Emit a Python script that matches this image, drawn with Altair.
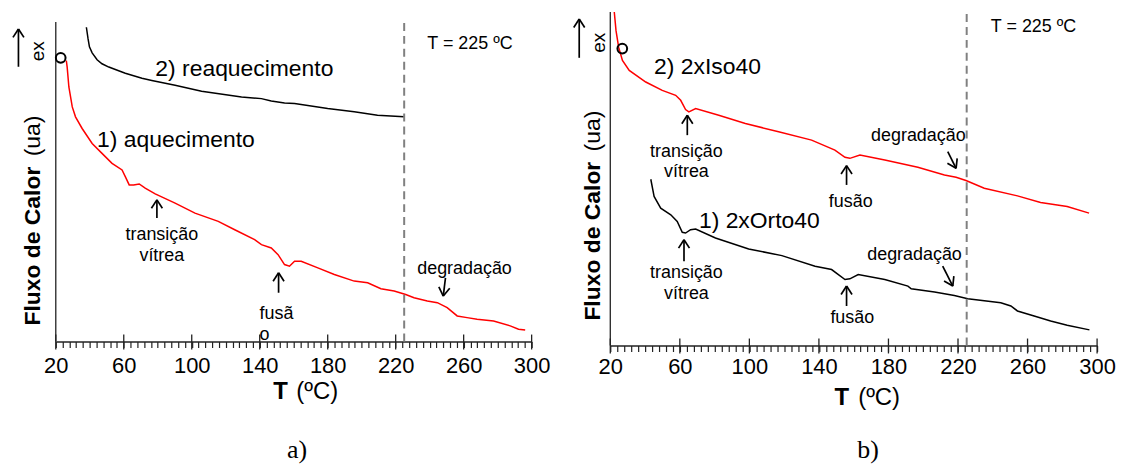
import altair as alt
import pandas as pd
import numpy as np

# ---------------- data (T in degC, heat flow in arbitrary units) ----------------
a_red_T = [26.2, 26.7, 27.7, 29.7, 31.6, 35.5, 41.4, 47.2, 53.1, 59.0, 60.9, 63.2, 65.8, 69.1, 72.6,
           78.5, 90.2, 101.9, 115.6, 125.3, 137.0, 141.0, 146.8, 150.8, 154.6, 157.5, 160.5, 164.4,
           174.2, 183.9, 195.6, 203.5, 211.3, 219.1, 225.9, 230.8, 238.6, 244.5, 250.3, 256.2, 262.0,
           267.9, 277.6, 287.4, 292.3, 296.2]
a_red_v = [282.3, 275.7, 255.7, 235.7, 225.7, 214, 199, 189, 179, 172.3, 165.7, 157.3, 157.3, 158.3, 154,
           148.3, 139, 129, 120.7, 112.3, 102.3, 97.3, 94, 87.3, 77.3, 75.7, 80.7, 80.7,
           74, 67.3, 60.7, 59, 53, 50.7, 47.3, 44, 40.7, 39, 34, 25.7, 24,
           22.3, 20.7, 15.7, 12.3, 11.5]
a_blk_T = [38.0, 39.0, 39.8, 41.4, 44.3, 47.2, 51.2, 57.0, 60.9, 70.7, 76.5, 90.2, 105.8, 129.3, 141.0,
           146.8, 154.6, 160.5, 180.0, 195.6, 209.3, 224.9]
a_blk_v = [315.7, 304, 296, 290, 283, 279, 275.7, 272, 269.5, 264.5, 262.3, 257.5, 251.5, 245.7, 244,
           241.7, 239.7, 239, 234, 230.7, 227.3, 225.7]

b_red_T = [22.3, 23.3, 24.8, 27.0, 30.9, 40.4, 49.9, 57.6, 60.5, 63.3, 65.2, 69.1, 82.4, 97.7, 116.8,
           135.8, 149.2, 155.0, 157.8, 163.6, 177.9, 196.9, 212.2, 218.9, 224.6, 235.1, 254.2, 267.5,
           282.8, 295.4]
b_red_v = [335, 316.3, 299.7, 286.3, 276.3, 264.7, 256.3, 251.3, 246.3, 237, 234.7, 238, 231.3, 223, 214.7,
           206.3, 196.3, 189, 188, 191.3, 186.3, 179, 171.3, 169, 165.7, 158, 150.3, 143.7,
           139.7, 133]
b_blk_T = [43.3, 45.2, 49.0, 54.8, 58.5, 61.4, 63.3, 66.2, 69.1, 80.5, 99.6, 118.7, 137.8, 147.3, 155.0,
           157.8, 162.6, 177.9, 191.2, 193.1, 206.5, 217.9, 225.6, 244.6, 250.4, 254.2, 263.8, 273.3,
           282.8, 295.6]
b_blk_v = [167, 149.7, 138, 131.3, 124.7, 113.7, 113, 116.3, 117, 108, 97, 90.3, 79.7, 76.3, 66.3,
           67, 71.3, 66.3, 59.7, 57, 53.7, 50.3, 47, 43, 39.7, 34.7, 29.7, 24.7,
           20.3, 15.7]

x_ticks_major = [20, 60, 100, 140, 180, 220, 260, 300]
x_ticks_minor = list(range(20, 301, 4))
T_limit = 225

# annotations: (text, T, v, size, weight, align, angle, font)
SANS = "Liberation Sans"
SERIF = "Liberation Serif"
a_texts = [
    ("2) reaquecimento", 78.6, 267, 23, "normal", "left", 0, SANS),
    ("1) aquecimento", 44.3, 195.7, 23, "normal", "left", 0, SANS),
    ("transição", 82.4, 102.3, 18, "normal", "center", 0, SANS),
    ("vítrea", 82.4, 80.7, 18, "normal", "center", 0, SANS),
    ("fusã", 139.9, 22.3, 18, "normal", "left", 0, SANS),
    ("o", 139.9, 2, 18, "normal", "left", 0, SANS),
    ("degradação", 260.5, 68, 18, "normal", "center", 0, SANS),
    ("T = 225 ºC", 238.6, 294, 18, "normal", "left", 0, SANS),
    ("ex", 12.9, 291.5, 19, "normal", "center", 270, SANS),
    ("Fluxo de Calor", 10.6, 16, 23, "bold", "left", 270, SANS),
    ("(ua)", 10.6, 186, 23, "normal", "left", 270, SANS),
    ("T", 156.5, -58, 24, "bold", "right", 0, SANS),
    ("(ºC)", 161.5, -58, 24, "normal", "left", 0, SANS),
    ("a)", 162.0, -117, 26, "normal", "center", 0, SERIF),
]
b_texts = [
    ("2) 2xIso40", 45.2, 272.3, 23, "normal", "left", 0, SANS),
    ("1) 2xOrto40", 71.0, 118, 23, "normal", "left", 0, SANS),
    ("transição", 63.8, 189.7, 18, "normal", "center", 0, SANS),
    ("vítrea", 63.8, 169, 18, "normal", "center", 0, SANS),
    ("transição", 63.8, 68, 18, "normal", "center", 0, SANS),
    ("vítrea", 63.8, 47, 18, "normal", "center", 0, SANS),
    ("fusão", 158.3, 139, 18, "normal", "center", 0, SANS),
    ("fusão", 159.2, 23, 18, "normal", "center", 0, SANS),
    ("degradação", 197.2, 205.7, 18, "normal", "center", 0, SANS),
    ("degradação", 195.0, 86.3, 18, "normal", "center", 0, SANS),
    ("T = 225 ºC", 238.9, 314.7, 18, "normal", "left", 0, SANS),
    ("ex", 16.8, 304, 19, "normal", "center", 270, SANS),
    ("Fluxo de Calor", 14.3, 25, 23, "bold", "left", 270, SANS),
    ("(ua)", 14.3, 195, 23, "normal", "left", 270, SANS),
    ("T", 157.4, -60, 24, "bold", "right", 0, SANS),
    ("(ºC)", 162.6, -60, 24, "normal", "left", 0, SANS),
    ("b)", 168.3, -113, 26, "normal", "center", 0, SERIF),
]
# arrows: (tail T, tail v, tip T, tip v)
a_arrows = [(79.5, 124, 79.5, 142.3), (151.1, 49, 151.1, 69), (249.3, 64, 248.0, 45.7),
            (-1.97, 276, -1.97, 314)]
b_arrows = [(64.3, 211.3, 64.3, 231.3), (62.4, 84.7, 62.4, 106.3), (155.9, 161.3, 155.9, 180.7),
            (155.9, 39.7, 155.9, 59.7), (214.1, 194.7, 218.9, 178), (211.2, 79.7, 217.0, 59.7),
            (2.13, 289, 2.13, 328)]
a_circle = (22.9, 285)
b_circle = (26.9, 298.3)


def arrow_segments(arrows, kx):
    rows = []
    for (t0, v0, t1, v1) in arrows:
        p0 = np.array([t0 * kx, v0])
        p1 = np.array([t1 * kx, v1])
        d = (p1 - p0) / np.linalg.norm(p1 - p0)
        perp = np.array([-d[1], d[0]])
        base = p1 - d * 8.5
        for q in (p0, base + perp * 5.5, base - perp * 5.5):
            rows.append({"x": q[0] / kx, "y": q[1], "x2": t1, "y2": v1})
    return pd.DataFrame(rows)


def panel(width, height, yline_top, dash_top, curves, texts, arrows, circle, label_pad):
    xs = alt.Scale(domain=[20, 300], nice=False, zero=False)
    ys = alt.Scale(domain=[0, height], nice=False, zero=False)
    xaxis = alt.Axis(values=x_ticks_minor,
                     labelExpr="(datum.value - 20) % 40 == 0 ? datum.label : ''",
                     format="d", tickSize=6, tickColor="#222", tickWidth=1.2,
                     domainColor="#222", domainWidth=1.3, labelFont=SANS, labelFontSize=22,
                     labelColor="black", labelPadding=label_pad, title=None, grid=False,
                     labelOverlap=False, labelFlush=False)

    def X(f):
        return alt.X(f, type="quantitative", scale=xs, axis=xaxis)

    def Y(f):
        return alt.Y(f, type="quantitative", scale=ys, axis=None)

    layers = []
    for (T, v, col) in curves:
        df = pd.DataFrame({"T": T, "v": v})
        layers.append(alt.Chart(df).mark_line(color=col, strokeWidth=1.5).encode(x=X("T"), y=Y("v")))

    dash = pd.DataFrame({"T": [T_limit], "v0": [0], "v1": [dash_top]})
    layers.append(alt.Chart(dash).mark_rule(color="#808080", strokeWidth=2, strokeDash=[8, 5]).encode(
        x=X("T"), y=Y("v0"), y2="v1"))

    yl = pd.DataFrame({"T": [20], "v0": [0], "v1": [yline_top]})
    layers.append(alt.Chart(yl).mark_rule(color="#222", strokeWidth=1.3).encode(
        x=X("T"), y=Y("v0"), y2="v1"))

    mj = pd.DataFrame({"T": x_ticks_major, "v0": [-8] * len(x_ticks_major), "v1": [7] * len(x_ticks_major)})
    layers.append(alt.Chart(mj).mark_rule(color="#222", strokeWidth=1.3).encode(
        x=X("T"), y=Y("v0"), y2="v1"))

    seg = arrow_segments(arrows, width / 280.0)
    layers.append(alt.Chart(seg).mark_rule(color="black", strokeWidth=1.7).encode(
        x=X("x"), y=Y("y"), x2="x2", y2="y2"))

    cdf = pd.DataFrame({"T": [circle[0]], "v": [circle[1]]})
    layers.append(alt.Chart(cdf).mark_point(shape="circle", filled=False, size=95, color="black",
                                            strokeWidth=2, opacity=1).encode(x=X("T"), y=Y("v")))

    tdf = pd.DataFrame(texts, columns=["text", "T", "v", "size", "weight", "align", "angle", "font"])
    for key, g in tdf.groupby(["size", "weight", "align", "angle", "font"]):
        size, weight, align, angle, font = key
        layers.append(alt.Chart(g[["text", "T", "v"]]).mark_text(
            fontSize=float(size), fontWeight=weight, align=align, angle=float(angle), font=font,
            baseline="alphabetic", color="black").encode(x=X("T"), y=Y("v"), text="text"))

    return alt.layer(*layers).properties(width=width, height=height)


pa = panel(478, 331, 321, 321, [(a_blk_T, a_blk_v, "black"), (a_red_T, a_red_v, "#ff0000")],
           a_texts, a_arrows, a_circle, 8)
pb = panel(489, 335, 335, 335, [(b_blk_T, b_blk_v, "black"), (b_red_T, b_red_v, "#ff0000")],
           b_texts, b_arrows, b_circle, 5)

chart = alt.hconcat(pa, pb, spacing=79, bounds="flush").properties(
    padding={"left": 4, "top": 0, "right": 0, "bottom": 0}
).configure_view(stroke=None)

chart.save("out.html", embed_options={"renderer": "svg", "actions": False})
